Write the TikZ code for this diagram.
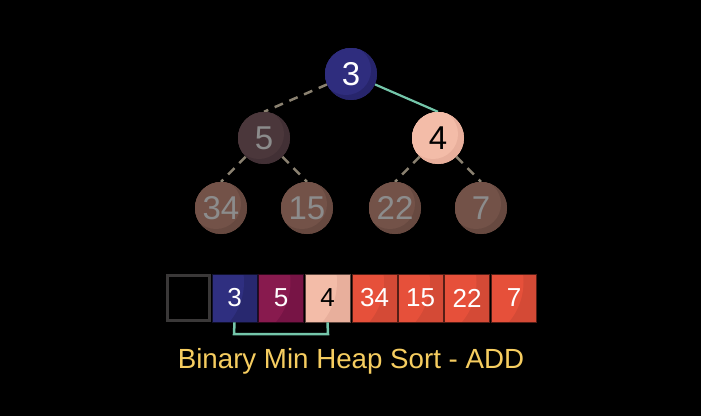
\documentclass[tikz,border=0pt]{standalone}
\usepackage{fontspec}
\setmainfont{Liberation Sans}
\definecolor{rootA}{HTML}{2F2D7E}\definecolor{rootB}{HTML}{27256C}
\definecolor{fiveA}{HTML}{4B373B}\definecolor{fiveB}{HTML}{423035}
\definecolor{fourA}{HTML}{F3BCA8}\definecolor{fourB}{HTML}{E8AF9C}
\definecolor{botA}{HTML}{735248}\definecolor{botB}{HTML}{674940}
\definecolor{bxthreeA}{HTML}{2F2F80}\definecolor{bxthreeB}{HTML}{28286F}
\definecolor{bxfiveA}{HTML}{881A4E}\definecolor{bxfiveB}{HTML}{771445}
\definecolor{redA}{HTML}{E6503A}\definecolor{redB}{HTML}{D44A36}
\definecolor{dimtext}{HTML}{8C8C8C}
\definecolor{dashcol}{HTML}{8A8170}
\definecolor{teal}{HTML}{74C6AA}
\definecolor{titlecol}{HTML}{F6CD60}
\definecolor{emptybox}{HTML}{3A3838}
\tikzset{
  treenode/.style 2 args={circle, minimum size=52pt, inner sep=0pt, fill=#2,
    font=\fontsize{33}{33}\selectfont,
    path picture={\fill[#1] ([xshift=-5pt,yshift=4pt]path picture bounding box.center) circle (25pt);}},
  arrbox/.style 2 args={rectangle, minimum width=45pt, minimum height=48pt, inner sep=0pt, fill=#2,
    font=\fontsize{26}{26}\selectfont, draw=black!60!#2, line width=0.6pt,
    path picture={\fill[#1] ([xshift=-30pt,yshift=-8pt]path picture bounding box.north west) circle (62pt);}},
  dashedge/.style={draw=dashcol, line width=2.5pt, dash pattern=on 9pt off 7pt},
  swapedge/.style={draw=teal, line width=2.2pt},
}
\begin{document}
\begin{tikzpicture}[x=1pt,y=-1pt]
\fill[black] (0,0) rectangle (701,416);
\useasboundingbox (0,0) rectangle (701,416);
% tree
\node[treenode={rootA}{rootB}, text=white] (r) at (351,74) {3};
\node[treenode={fiveA}{fiveB}, text=dimtext] (a) at (264,138) {5};
\node[treenode={fourA}{fourB}, text=black] (b) at (438,138) {4};
\node[treenode={botA}{botB}, text=dimtext] (c) at (221,208) {34};
\node[treenode={botA}{botB}, text=dimtext] (d) at (307,208) {15};
\node[treenode={botA}{botB}, text=dimtext] (e) at (395,208) {22};
\node[treenode={botA}{botB}, text=dimtext] (f) at (481,208) {7};
\draw[dashedge] (r) -- (a.north);
\draw[swapedge] (r) -- (b.north);
\draw[dashedge] (a) -- (c.north);
\draw[dashedge] (a) -- (d.north);
\draw[dashedge] (b) -- (e.north);
\draw[dashedge] (b) -- (f.north);
% redraw nodes on top of edges
\node[treenode={rootA}{rootB}, text=white] at (351,74) {3};
\node[treenode={fiveA}{fiveB}, text=dimtext] at (264,138) {5};
\node[treenode={fourA}{fourB}, text=black] at (438,138) {4};
\node[treenode={botA}{botB}, text=dimtext] at (221,208) {34};
\node[treenode={botA}{botB}, text=dimtext] at (307,208) {15};
\node[treenode={botA}{botB}, text=dimtext] at (395,208) {22};
\node[treenode={botA}{botB}, text=dimtext] at (481,208) {7};
% array
\node[draw=emptybox, line width=3pt, minimum width=42pt, minimum height=45pt, inner sep=0pt] (s0) at (188.5,298) {};
\node[arrbox={bxthreeA}{bxthreeB}, text=white] (s1) at (234.5,298) {3};
\node[arrbox={bxfiveA}{bxfiveB}, text=white] (s2) at (281,298) {5};
\node[arrbox={fourA}{fourB}, text=black] (s3) at (327.5,298) {4};
\node[arrbox={redA}{redB}, text=white] (s4) at (374.5,298) {34};
\node[arrbox={redA}{redB}, text=white] (s5) at (420.5,298) {15};
\node[arrbox={redA}{redB}, text=white] (s6) at (467,298) {22};
\node[arrbox={redA}{redB}, text=white] (s7) at (514,298) {7};
\coordinate (k1) at (234,334);
\coordinate (k2) at (328,334);
\draw[swapedge, line width=2.5pt] (s1.south) -- (k1) -- (k2) -- (s3.south);
% title
\node[text=titlecol, font=\fontsize{27.7}{28}\selectfont, inner sep=0pt] (title) at (351,361) {Binary Min Heap Sort - ADD};
\end{tikzpicture}
\end{document}
